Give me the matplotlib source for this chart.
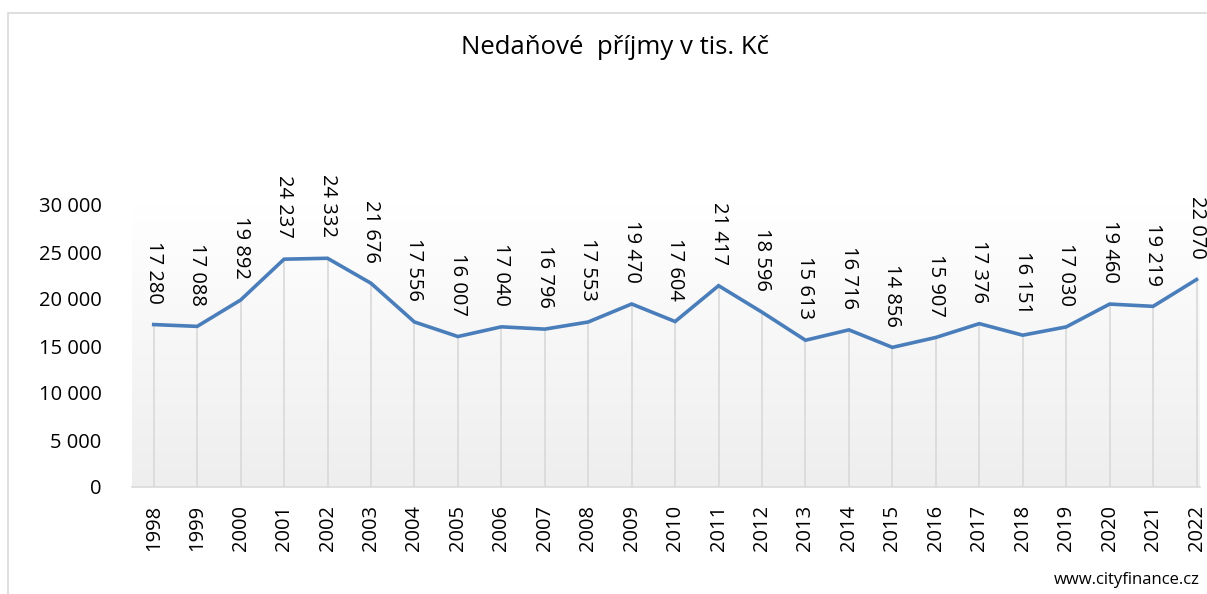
import matplotlib
matplotlib.use("Agg")
import matplotlib.pyplot as plt
import numpy as np
from matplotlib.patches import Rectangle
from matplotlib.colors import LinearSegmentedColormap

years = list(range(1998, 2023))
values = [17280, 17088, 19892, 24237, 24332, 21676, 17556, 16007, 17040, 16796,
          17553, 19470, 17604, 21417, 18596, 15613, 16716, 14856, 15907, 17376,
          16151, 17030, 19460, 19219, 22070]
yticks = [0, 5000, 10000, 15000, 20000, 25000, 30000]
title = "Nedaňové  příjmy v tis. Kč"
source = "www.cityfinance.cz"

def fmt(v):
    return f"{v:,}".replace(",", " ")

plt.rcParams['font.family'] = ['Open Sans', 'DejaVu Sans']

W, H = 1207, 594
fig = plt.figure(figsize=(W / 100, H / 100), dpi=100)
fig.patch.set_facecolor("white")
fig.patches.append(Rectangle((8 / W, -0.1), (W + 20) / W, 1.1 - 13 / H,
                             transform=fig.transFigure, fill=False,
                             edgecolor="#d9d9d9", linewidth=1.2))

left, right, top, bottom = 132, 1200, 205, 487
ax = fig.add_axes([left / W, 1 - bottom / H, (right - left) / W, (bottom - top) / H])
x0, x1 = 1997.5, 2022.08
ax.set_xlim(x0, x1)
ax.set_ylim(0, 30000)

grad = np.linspace(0, 1, 256).reshape(-1, 1)
cmap = LinearSegmentedColormap.from_list("g", ["#eeeeee", "#ffffff"])
ax.imshow(grad, extent=[x0, x1, 0, 30000], origin="lower", aspect="auto",
          cmap=cmap, zorder=0)

ax.vlines(years, 0, values, color="#d9d9d9", linewidth=1.2, zorder=1)
ax.plot(years, values, color="#4a7ebb", linewidth=2.6, zorder=3,
        solid_joinstyle="miter")

for x, v in zip(years, values):
    ax.annotate(fmt(v), (x, v), xytext=(0, 15), textcoords="offset points",
                rotation=270, ha="center", va="bottom", fontsize=14.5,
                color="#000000", annotation_clip=False)

for s in ["top", "right", "left"]:
    ax.spines[s].set_visible(False)
ax.spines["bottom"].set_color("#d9d9d9")
ax.spines["bottom"].set_linewidth(1.2)

ax.set_xticks(years)
ax.set_xticklabels([str(y) for y in years], rotation=90, fontsize=14.5)
ax.set_yticks(yticks)
ax.set_yticklabels([fmt(v) for v in yticks], fontsize=14.5)
ax.tick_params(length=0)
ax.tick_params(axis="y", pad=22)
ax.tick_params(axis="x", pad=13)

fig.text(615 / W, 1 - 47 / H, title, ha="center", va="center", fontsize=18.5)
fig.text(1200 / W, 1 - 580 / H, source, ha="right", va="center", fontsize=12)

fig.savefig("out.png", dpi=100)
